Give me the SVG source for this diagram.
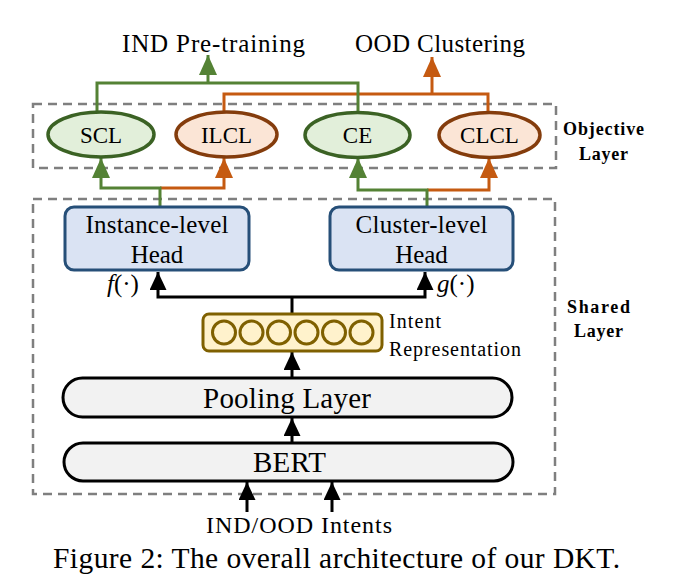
<svg xmlns="http://www.w3.org/2000/svg" width="673" height="586" viewBox="0 0 673 586">
<style>
text{font-family:"Liberation Serif","Times New Roman",serif;fill:#000}
.lbl{font-size:25px}
.obj{font-size:23px}
.bold{font-size:18px;font-weight:bold}
.dash{fill:none;stroke:#7f7f7f;stroke-width:2.5;stroke-dasharray:9 6}
.g{fill:none;stroke:#548235;stroke-width:3}
.o{fill:none;stroke:#c55a11;stroke-width:3}
.k{fill:none;stroke:#000;stroke-width:3}
.ge{fill:#e2efda;stroke:#3b6224;stroke-width:3.5}
.oe{fill:#fbe5d6;stroke:#843c0c;stroke-width:3.5}
.head{fill:#dae3f3;stroke:#264f78;stroke-width:3}
.pill{fill:#f2f2f2;stroke:#000;stroke-width:3}
.ir{fill:#fff2cc;stroke:#7f6000;stroke-width:3}
.irc{fill:none;stroke:#7f6000;stroke-width:3}
</style>
<defs>
<marker id="ag" viewBox="0 0 20 18" refX="20" refY="9" markerWidth="20" markerHeight="18" markerUnits="userSpaceOnUse" orient="auto"><path d="M0,0 L20,9 L0,18 z" fill="#548235"/></marker>
<marker id="ao" viewBox="0 0 20 18" refX="20" refY="9" markerWidth="20" markerHeight="18" markerUnits="userSpaceOnUse" orient="auto"><path d="M0,0 L20,9 L0,18 z" fill="#c55a11"/></marker>
<marker id="ak" viewBox="0 0 18 17" refX="18" refY="8.5" markerWidth="18" markerHeight="17" markerUnits="userSpaceOnUse" orient="auto"><path d="M0,0 L18,8.5 L0,17 z" fill="#000"/></marker>
</defs>
<rect width="673" height="586" fill="#fff"/>

<g id="layers">
<rect class="dash" x="33" y="104" width="523" height="64"/>
<rect class="dash" x="33" y="199" width="522" height="295"/>
<text class="bold" x="603.5" y="135" text-anchor="middle" textLength="81" lengthAdjust="spacing">Objective</text>
<text class="bold" x="603.5" y="160" text-anchor="middle" textLength="49" lengthAdjust="spacing">Layer</text>
<text class="bold" x="598.5" y="313" text-anchor="middle" textLength="63" lengthAdjust="spacing">Shared</text>
<text class="bold" x="598.5" y="337" text-anchor="middle" textLength="49" lengthAdjust="spacing">Layer</text>
</g>

<g id="connectors">
<path class="o" d="M224,112 V94 H488 V113"/>
<path class="o" d="M432,94 V57" marker-end="url(#ao)"/>
<path class="g" d="M97,112 V83 H358 V112"/>
<path class="g" d="M208,83 V55" marker-end="url(#ag)"/>
<path class="o" d="M160,188 H224 V158" marker-end="url(#ao)"/>
<path class="g" d="M160,207 V188 H101 V158" marker-end="url(#ag)"/>
<path class="o" d="M427,190 H489 V158" marker-end="url(#ao)"/>
<path class="g" d="M427,207 V190 H358 V158" marker-end="url(#ag)"/>
<path class="k" d="M292,314 V297"/>
<path class="k" d="M292,297 H158 V272" marker-end="url(#ak)"/>
<path class="k" d="M292,297 H425 V272" marker-end="url(#ak)"/>
<path class="k" d="M292,378 V352" marker-end="url(#ak)"/>
<path class="k" d="M292,443 V418" marker-end="url(#ak)"/>
<path class="k" d="M247,512 V482" marker-end="url(#ak)"/>
<path class="k" d="M332,512 V482" marker-end="url(#ak)"/>
</g>

<text class="lbl" x="122" y="52" textLength="183" lengthAdjust="spacing">IND  Pre-training</text>
<text class="lbl" x="355" y="52" textLength="170" lengthAdjust="spacing">OOD Clustering</text>

<g id="scl"><ellipse class="ge" cx="101" cy="134.5" rx="53" ry="22.5"/><text class="obj" x="101" y="142.5" text-anchor="middle">SCL</text></g>
<g id="ilcl"><ellipse class="oe" cx="226.5" cy="134.5" rx="50.5" ry="22.5"/><text class="obj" x="226.5" y="142.5" text-anchor="middle">ILCL</text></g>
<g id="ce"><ellipse class="ge" cx="357.5" cy="135" rx="52.5" ry="22.5"/><text class="obj" x="357.5" y="143" text-anchor="middle">CE</text></g>
<g id="clcl"><ellipse class="oe" cx="489.5" cy="135" rx="50.5" ry="22.5"/><text class="obj" x="489.5" y="143" text-anchor="middle">CLCL</text></g>

<g id="instance-head">
<rect class="head" x="65" y="207" width="184" height="63" rx="9"/>
<text class="lbl" x="157" y="233" text-anchor="middle" textLength="143" lengthAdjust="spacing">Instance-level</text>
<text class="lbl" x="157" y="263" text-anchor="middle">Head</text>
</g>
<g id="cluster-head">
<rect class="head" x="330" y="207" width="183" height="63" rx="9"/>
<text class="lbl" x="421.5" y="233" text-anchor="middle" textLength="132" lengthAdjust="spacing">Cluster-level</text>
<text class="lbl" x="421.5" y="263" text-anchor="middle">Head</text>
</g>
<text class="lbl" x="107" y="292" font-size="24"><tspan font-style="italic">f</tspan>(·)</text>
<text class="lbl" x="437" y="292" font-size="24"><tspan font-style="italic">g</tspan>(·)</text>

<g id="intent-representation">
<rect class="ir" x="203" y="314" width="179" height="37" rx="6"/>
<circle class="irc" cx="224" cy="332.5" r="11.5"/>
<circle class="irc" cx="251.5" cy="332.5" r="11.5"/>
<circle class="irc" cx="279" cy="332.5" r="11.5"/>
<circle class="irc" cx="306.5" cy="332.5" r="11.5"/>
<circle class="irc" cx="334" cy="332.5" r="11.5"/>
<circle class="irc" cx="361.5" cy="332.5" r="11.5"/>
<text x="389" y="328" font-size="20" textLength="52" lengthAdjust="spacing">Intent</text>
<text x="389" y="356" font-size="20" textLength="132" lengthAdjust="spacing">Representation</text>
</g>

<g id="pooling-layer">
<rect class="pill" x="63" y="378" width="449" height="39" rx="19.5"/>
<text x="287" y="408" font-size="29" text-anchor="middle" textLength="168" lengthAdjust="spacing">Pooling Layer</text>
</g>
<g id="bert">
<rect class="pill" x="64" y="443" width="449" height="38" rx="19"/>
<text x="289.5" y="472" font-size="29" text-anchor="middle" textLength="73" lengthAdjust="spacing">BERT</text>
</g>

<text x="206" y="533" font-size="24" textLength="186" lengthAdjust="spacing">IND/OOD Intents</text>
<text x="53" y="568" font-size="29.5" textLength="567" lengthAdjust="spacing">Figure 2: The overall architecture of our DKT.</text>
</svg>
